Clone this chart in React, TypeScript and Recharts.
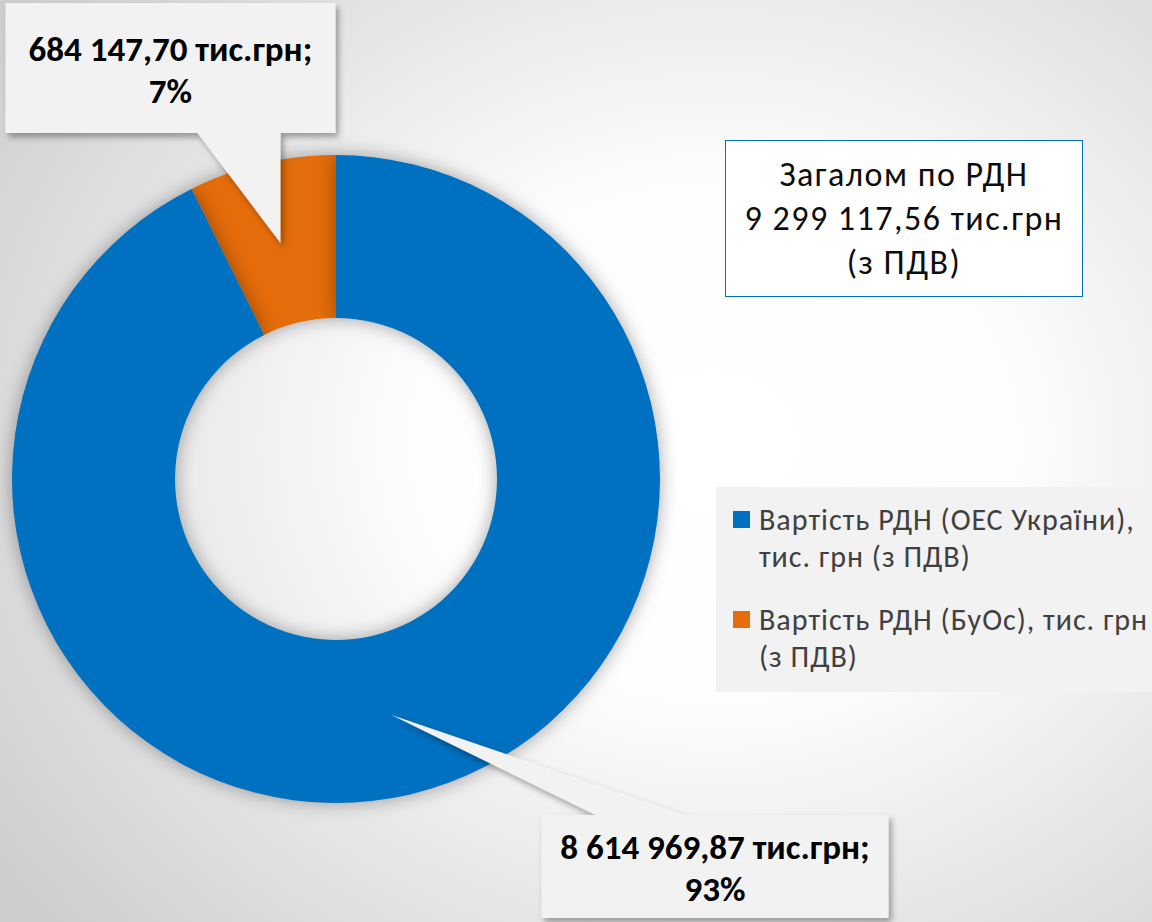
import { Legend, Pie, PieChart, Cell } from 'recharts';

// values in тис. грн (з ПДВ)
const sliceNames = ['Вартість РДН (БуОс), тис. грн (з ПДВ)', 'Вартість РДН (ОЕС України), тис. грн (з ПДВ)'];
const sliceValues = [684147.7, 8614969.87];
const sliceLabels = ['684 147,70 тис.грн;', '8 614 969,87 тис.грн;'];
const slicePercents = ['7%', '93%'];
const sliceColors = ['#E46C0A', '#0070C0'];
const legendLines = [
	['Вартість РДН (ОЕС України),', 'тис. грн (з ПДВ)'],
	['Вартість РДН (БуОс), тис. грн', '(з ПДВ)'],
];
const titleLines = ['Загалом по РДН', '9 299 117,56 тис.грн', '(з ПДВ)'];

const data = sliceNames.map((name, i) => ({ name, value: sliceValues[i] }));

const FONT = "Carlito, Lato, 'Noto Sans', sans-serif";
const RAD = Math.PI / 180;

function CalloutLabel(props: any) {
	const { cx, cy, midAngle, innerRadius, outerRadius, index } = props;
	const r = (innerRadius + outerRadius) / 2;
	const tx = cx + r * Math.cos(-midAngle * RAD);
	const ty = cy + r * Math.sin(-midAngle * RAD);
	let d: string;
	let textX: number;
	let textY: number;
	if (index === 0) {
		const L = tx - 275, T = ty - 240, R = L + 330, B = T + 130;
		d = `M${L},${T} H${R} V${B} H${tx} L${tx},${ty} L${tx - 83},${B} H${L} Z`;
		textX = (L + R) / 2;
		textY = T + 58;
	} else {
		const L = tx + 150, T = ty + 100, R = L + 347, B = T + 103;
		d = `M${L},${T} H${tx + 204} L${tx},${ty} L${tx + 294},${T} H${R} V${B} H${L} Z`;
		textX = (L + R) / 2;
		textY = T + 44;
	}
	return (
		<g>
			<path d={d} fill="#f2f2f2" filter="url(#boxShadow)" />
			<text x={textX} y={textY} textAnchor="middle" fontFamily={FONT} fontWeight="bold" fontSize={35} fill="#000">
				<tspan x={textX}>{sliceLabels[index]}</tspan>
				<tspan x={textX} dy={42}>{slicePercents[index]}</tspan>
			</text>
		</g>
	);
}

function LegendBox({ payload }: any) {
	const items = [...(payload || [])].reverse();
	return (
		<div
			style={{
				background: '#f2f2f2',
				width: 436,
				height: 205,
				boxSizing: 'border-box',
				padding: '14px 0 0 17px',
				fontFamily: FONT,
				fontSize: 30,
				letterSpacing: 1,
				color: '#404040',
				lineHeight: '37px',
				whiteSpace: 'nowrap',
			}}
		>
			{items.map((item: any, i: number) => (
				<div key={item.value} style={{ display: 'flex', marginBottom: 26 }}>
					<div style={{ width: 17, height: 17, background: item.color, marginTop: 10, marginRight: 9, flexShrink: 0 }} />
					<div>
						{legendLines[i].map((line) => (
							<div key={line}>{line}</div>
						))}
					</div>
				</div>
			))}
		</div>
	);
}

export default function App() {
	return (
		<div
			style={{
				position: 'relative',
				width: 1152,
				height: 922,
				overflow: 'hidden',
				background: 'radial-gradient(ellipse 75% 80% at 62% 48%, #ffffff 0%, #fdfdfd 35%, #e4e4e4 70%, #cecece 100%)',
			}}
		>
			<style>{'body{margin:0} .recharts-pie-sector{filter: drop-shadow(0 0 9px rgba(0,0,0,0.35));}'}</style>
			<PieChart width={1152} height={922} margin={{ top: 0, right: 0, bottom: 0, left: 0 }}>
				<defs>
					<filter id="boxShadow" x="-10%" y="-10%" width="130%" height="130%">
						<feDropShadow dx="3" dy="4" stdDeviation="3" floodColor="#000" floodOpacity="0.35" />
					</filter>
				</defs>
				<Pie
					data={data}
					dataKey="value"
					nameKey="name"
					cx={336}
					cy={479}
					innerRadius={161}
					outerRadius={324}
					startAngle={90}
					endAngle={450}
					stroke="none"
					label={CalloutLabel}
					labelLine={false}
					isAnimationActive={false}
				>
					{data.map((d, i) => (
						<Cell key={d.name} fill={sliceColors[i]} />
					))}
				</Pie>
				<Legend
					content={<LegendBox />}
					wrapperStyle={{ position: 'absolute', left: 716, top: 487, width: 436, height: 205 }}
				/>
			</PieChart>
			<div
				style={{
					position: 'absolute',
					left: 725,
					top: 140,
					width: 358,
					height: 157,
					boxSizing: 'border-box',
					border: '1.5px solid #0070C0',
					background: '#fff',
					fontFamily: FONT,
					fontSize: 34,
					letterSpacing: 1.5,
					lineHeight: '44px',
					color: '#0d0d0d',
					textAlign: 'center',
					paddingTop: 12,
					whiteSpace: 'nowrap',
				}}
			>
				{titleLines.map((line) => (
					<div key={line}>{line}</div>
				))}
			</div>
		</div>
	);
}
